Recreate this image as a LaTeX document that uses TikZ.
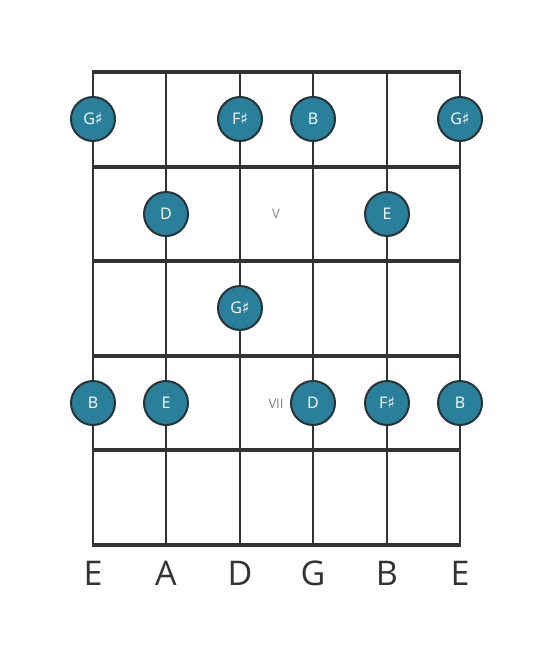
\documentclass[tikz,border=0pt]{standalone}
\usepackage{fontspec}
\setmainfont{Open Sans}
\newfontfamily\symfont{DejaVu Sans}
\definecolor{notefill}{RGB}{42,127,155}
\definecolor{noteedge}{RGB}{38,52,56}
\definecolor{gridcol}{RGB}{51,51,51}
\definecolor{labgray}{RGB}{130,130,130}
\newcommand{\shp}{{\symfont\char"266F}}
\begin{document}
\begin{tikzpicture}[x=1pt,y=-1pt,
  fretline/.style={draw=gridcol,line width=4pt},
  stringline/.style={draw=gridcol,line width=2.7pt},
  note/.style={circle,fill=notefill,draw=noteedge,line width=2pt,minimum size=44pt,inner sep=0pt,text=white,font=\fontsize{16}{16}\selectfont},
  fretlabel/.style={text=labgray,font=\fontsize{13}{13}\selectfont},
  strlabel/.style={text=gridcol,font=\fontsize{34}{34}\selectfont}]
\useasboundingbox (0,0) rectangle (553,656);
% strings
\foreach \x [count=\i] in {93,166,240,313,387,460}{
  \coordinate (st\i) at (\x,72);
  \coordinate (sb\i) at (\x,545);
  \draw[stringline] (st\i) -- (sb\i);
}
% frets
\foreach \y [count=\j] in {72,167,261,356,450,545}{
  \coordinate (fl\j) at (91.65,\y);
  \coordinate (fr\j) at (461.35,\y);
  \draw[fretline] (fl\j) -- (fr\j);
}
% fret labels
\node[fretlabel] (lv) at (276,214) {V};
\node[fretlabel] (lvii) at (276,404) {VII};
% notes
\node[note] (n1) at (93,119) {G\shp};
\node[note] (n2) at (240,119) {F\shp};
\node[note] (n3) at (313,119) {B};
\node[note] (n4) at (460,119) {G\shp};
\node[note] (n5) at (166,214) {D};
\node[note] (n6) at (387,214) {E};
\node[note] (n7) at (240,308) {G\shp};
\node[note] (n8) at (93,403) {B};
\node[note] (n9) at (166,403) {E};
\node[note] (n10) at (313,403) {D};
\node[note] (n11) at (387,403) {F\shp};
\node[note] (n12) at (460,403) {B};
% string names
\foreach \x/\s [count=\k] in {93/E,166/A,240/D,313/G,387/B,460/E}{
  \node[strlabel] (sn\k) at (\x,573) {\s};
}
\end{tikzpicture}
\end{document}
